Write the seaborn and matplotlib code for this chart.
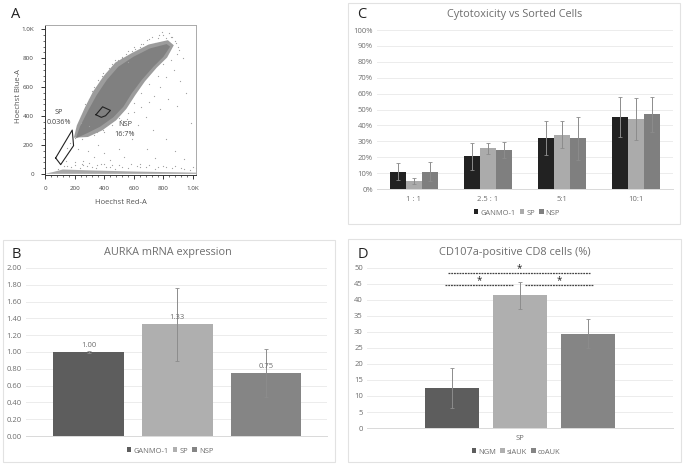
import matplotlib
matplotlib.use("Agg")
import matplotlib.pyplot as plt
import pandas as pd
import seaborn as sns
from matplotlib.patches import Rectangle

W, H = 684, 465

# panel A: flow cytometry
cloud_x = [209, 236, 293, 349, 417, 495, 597, 709, 822, 845, 800, 732, 653, 586, 529, 461, 372, 282]
cloud_y = [246, 326, 441, 545, 649, 741, 810, 868, 898, 880, 810, 741, 649, 557, 464, 391, 326, 280]
halo_x = [195, 215, 270, 325, 395, 475, 585, 700, 830, 870, 825, 755, 675, 610, 550, 480, 385, 290]
halo_y = [250, 335, 460, 570, 675, 770, 835, 895, 925, 890, 805, 735, 640, 545, 450, 370, 300, 255]
band_x = [0, 60, 120, 300, 600, 1030, 1030, 0]
band_y = [0, 14, 30, 24, 16, 8, 0, 0]
dots_x = [150, 172, 205, 240, 262, 300, 318, 345, 372, 385, 410, 432, 455, 470, 495, 520, 545, 560, 585, 610,
          640, 665, 690, 720, 745, 770, 790, 815, 840, 860, 885, 905, 930, 395, 420, 510, 555, 600, 650,
          700, 735, 780, 820, 870, 910, 950, 530, 625, 680, 730, 775, 830, 890, 300, 350, 250, 220,
          330, 290, 260, 360, 400, 440, 500, 535, 590, 640, 690, 740, 820, 880, 940, 985, 150, 200, 260, 320,
          380, 440, 500, 560, 620, 680, 740, 800, 860, 920, 980, 1020, 90, 130, 175, 235, 285, 345, 415, 475,
          240, 270, 300, 330, 360, 390, 430, 470, 520, 560, 600, 650, 700, 760, 800, 850, 880, 900,
          330, 400, 450, 500, 560, 600, 650, 700, 760, 800, 850, 890,
          100, 140, 200, 250, 300, 350, 400, 450, 520, 580, 640, 700, 760, 820, 880, 940, 1000]
dots_y = [180, 215, 250, 355, 440, 480, 575, 590, 640, 680, 700, 730, 760, 745, 790, 800, 830, 775, 850, 865,
          880, 900, 925, 950, 905, 960, 985, 940, 975, 950, 905, 860, 800, 300, 335, 370, 380, 430, 465,
          500, 540, 600, 670, 720, 640, 560, 290, 340, 390, 300, 450, 520, 470, 330, 290, 240, 175,
          120, 160, 90, 200, 145, 95, 175, 120, 240, 70, 170, 110, 240, 155, 100, 350, 55, 62, 58, 50,
          65, 45, 60, 40, 55, 48, 35, 52, 42, 40, 30, 38, 35, 52, 48, 42, 55, 38, 46, 34,
          400, 480, 520, 600, 650, 700, 720, 790, 810, 850, 880, 900, 930, 940, 960, 950, 920, 880,
          270, 290, 340, 385, 420, 490, 560, 620, 680, 760, 790, 830,
          70, 90, 80, 70, 75, 60, 70, 60, 50, 65, 45, 60, 50, 45, 55, 35, 45]
sp_gate_x = [72, 184, 193, 106, 72]
sp_gate_y = [110, 303, 195, 64, 110]
nsp_gate_x = [344, 389, 442, 409, 380, 344]
nsp_gate_y = [409, 464, 439, 402, 391, 409]

# panel B
aurka_groups = ["GANMO-1", "SP", "NSP"]
aurka_values = [1.00, 1.33, 0.75]
aurka_errors = [0.01, 0.435, 0.285]

# panel C
ratios = ["1 : 1", "2.5 : 1", "5:1", "10:1"]
cyto_ganmo = [11, 20.5, 32, 45.5]
cyto_sp = [5, 25.5, 34, 44]
cyto_nsp = [11, 24.5, 32, 47]
err_ganmo = [5.5, 8.5, 10.5, 12.5]
err_sp = [2, 3.5, 8.5, 13]
err_nsp = [6, 5, 13.5, 11]

# panel D
cd107_groups = ["NGM", "siAUK", "coAUK"]
cd107_values = [12.5, 41.5, 29.5]
cd107_errors = [6.2, 4.2, 4.5]

plt.rcParams["font.family"] = ["Open Sans", "DejaVu Sans"]
TXT = "#6e6e6e"
GRID = "#ececec"

fig = plt.figure(figsize=(W / 100, H / 100), dpi=100)


def px_axes(left, top, right, bottom):
    return fig.add_axes([left / W, 1 - bottom / H, (right - left) / W, (bottom - top) / H])


def ftext(x, y, s, **kw):
    kw.setdefault("ha", "center")
    kw.setdefault("va", "center")
    kw.setdefault("color", TXT)
    fig.text(x / W, 1 - y / H, s, **kw)


def frame(left, top, right, bottom):
    fig.add_artist(Rectangle((left / W, 1 - bottom / H), (right - left) / W, (bottom - top) / H,
                             transform=fig.transFigure, fill=False, ec="#e2e2e2", lw=0.8))


def style_bar_axes(ax, yticks, labels):
    ax.set_yticks(yticks)
    ax.set_yticklabels(labels, fontsize=5.5, color=TXT)
    ax.grid(axis="y", color=GRID, lw=0.7)
    ax.set_axisbelow(True)
    ax.set_xlabel("")
    ax.set_ylabel("")
    ax.tick_params(length=0, pad=3)
    for name, sp in ax.spines.items():
        sp.set_visible(name == "bottom")
    ax.spines["bottom"].set_color("#d9d9d9")
    ax.spines["bottom"].set_linewidth(0.7)


def put_legend(ax, x, y):
    sns.move_legend(ax, "center", bbox_to_anchor=(x / W, 1 - y / H), bbox_transform=fig.transFigure,
                    ncol=3, frameon=False, title=None, fontsize=5.4, labelcolor=TXT, handlelength=0.6,
                    handleheight=0.6, handletextpad=0.25, columnspacing=0.6)


def add_errors(ax, bars, errs):
    for b, e in zip(bars, errs):
        ax.errorbar(b.get_x() + b.get_width() / 2, b.get_height(), yerr=e, color="#8c8c8c",
                    lw=0.7, capsize=1.2, capthick=0.6, zorder=5)


# A
ax = px_axes(45, 25, 196, 175)
ax.fill(halo_x, halo_y, color="#9c9c9c", lw=0)
ax.fill(cloud_x, cloud_y, color="#808080", lw=0)
ax.fill(band_x, band_y, color="#a8a8a8", lw=0)
sns.scatterplot(x=dots_x, y=dots_y, s=0.8, color="#a0a0a0", linewidth=0, ax=ax)
ax.plot(sp_gate_x, sp_gate_y, color="#222222", lw=0.8)
ax.plot(nsp_gate_x, nsp_gate_y, color="#222222", lw=0.8)
ax.set_xlim(0, 1020)
ax.set_ylim(-8, 1030)
ax.set_xticks([0, 200, 400, 600, 800, 1000])
ax.set_xticklabels(["0", "200", "400", "600", "800", "1.0K"], fontsize=4.5, color="#444444")
ax.set_yticks([0, 200, 400, 600, 800, 1000])
ax.set_yticklabels(["0", "200", "400", "600", "800", "1.0K"], fontsize=4.5, color="#444444")
ax.set_xticks(range(0, 1020, 40), minor=True)
ax.set_yticks(range(0, 1020, 40), minor=True)
ax.tick_params(which="major", length=3, width=0.7, pad=5, color="#333333")
ax.tick_params(which="minor", length=1.5, width=0.5, color="#333333")
ax.spines["top"].set_color("#aaaaaa")
ax.spines["right"].set_color("#aaaaaa")
ax.spines["left"].set_color("#333333")
ax.spines["bottom"].set_color("#333333")
for sp in ax.spines.values():
    sp.set_linewidth(0.7)
ftext(121, 202, "Hoechst Red-A", fontsize=5.5, color="#555555")
ftext(18, 96, "Hoechst Blue-A", fontsize=5.5, color="#555555", rotation=90)
ftext(59, 113, "SP", fontsize=5.2, color="#444444")
ftext(59, 123, "0.036%", fontsize=5.2, color="#444444")
ftext(125, 125, "NSP", fontsize=5.2, color="#444444")
ftext(125, 134.5, "16.7%", fontsize=5.2, color="#444444")
ftext(16, 15, "A", fontsize=10.5, color="#222222")

# B
frame(3, 240, 335, 462)
ax = px_axes(26, 268, 327, 436)
sns.barplot(x=aurka_groups, y=aurka_values, hue=aurka_groups, palette=["#5d5d5d", "#afafaf", "#858585"],
            dodge=False, width=0.8, legend=True, ax=ax)
ax.set_xlim(-0.71, 2.69)
ax.set_ylim(0, 2)
style_bar_axes(ax, [i * 0.2 for i in range(11)], [f"{i * 0.2:.2f}" for i in range(11)])
ax.set_xticks([])
bars = [c[0] for c in ax.containers]
add_errors(ax, bars, aurka_errors)
for b, v in zip(bars, aurka_values):
    ax.text(b.get_x() + b.get_width() / 2, v + 0.035, f"{v:.2f}", ha="center", va="bottom", fontsize=5.5, color=TXT,
            zorder=6)
put_legend(ax, 170, 451)
ftext(168, 253, "AURKA mRNA expression", fontsize=7.8)
ftext(16, 255, "B", fontsize=10.5, color="#222222")

# C
frame(348, 3, 680, 224)
ax = px_axes(377, 30, 673, 189)
cyto = pd.DataFrame({
    "ratio": ratios * 3,
    "value": cyto_ganmo + cyto_sp + cyto_nsp,
    "group": ["GANMO-1"] * 4 + ["SP"] * 4 + ["NSP"] * 4,
})
sns.barplot(data=cyto, x="ratio", y="value", hue="group", palette=["#222222", "#ababab", "#7f7f7f"],
            width=0.66, ax=ax)
ax.set_xlim(-0.5, 3.5)
ax.set_ylim(0, 100)
style_bar_axes(ax, list(range(0, 101, 10)), [f"{i}%" for i in range(0, 101, 10)])
ax.tick_params(axis="x", labelsize=5.5, labelcolor=TXT, pad=5)
for cont, errs in zip(list(ax.containers), [err_ganmo, err_sp, err_nsp]):
    add_errors(ax, cont, errs)
put_legend(ax, 517, 213)
ftext(515, 15, "Cytotoxicity vs Sorted Cells", fontsize=7.8)
ftext(362, 15, "C", fontsize=10.5, color="#222222")

# D
frame(348, 239, 681, 462)
ax = px_axes(367, 268, 673, 428)
cd107 = pd.DataFrame({"x": ["SP"] * 3, "value": cd107_values, "group": cd107_groups})
sns.barplot(data=cd107, x="x", y="value", hue="group", palette=["#5d5d5d", "#afafaf", "#858585"],
            width=0.665, gap=0.21, ax=ax)
ax.set_xlim(-0.5, 0.5)
ax.set_ylim(0, 50)
style_bar_axes(ax, list(range(0, 51, 5)), [str(i) for i in range(0, 51, 5)])
ax.tick_params(axis="x", labelsize=5.5, labelcolor=TXT, pad=5)
add_errors(ax, [c[0] for c in ax.containers], cd107_errors)
for x0, x1, y in [(-0.234, 0.228, 48.3), (-0.245, -0.023, 44.6), (0.016, 0.238, 44.6)]:
    ax.plot([x0, x1], [y, y], color="#444444", lw=0.9, ls=(0, (1.5, 0.7)), clip_on=False, zorder=6)
    ax.text((x0 + x1) / 2, y - 0.2, "*", ha="center", va="bottom", fontsize=7, color="#222222", zorder=6)
put_legend(ax, 516, 452)
ftext(515, 253, "CD107a-positive CD8 cells (%)", fontsize=7.9)
ftext(363, 254, "D", fontsize=10.5, color="#222222")

fig.savefig("out.png", dpi=100)
